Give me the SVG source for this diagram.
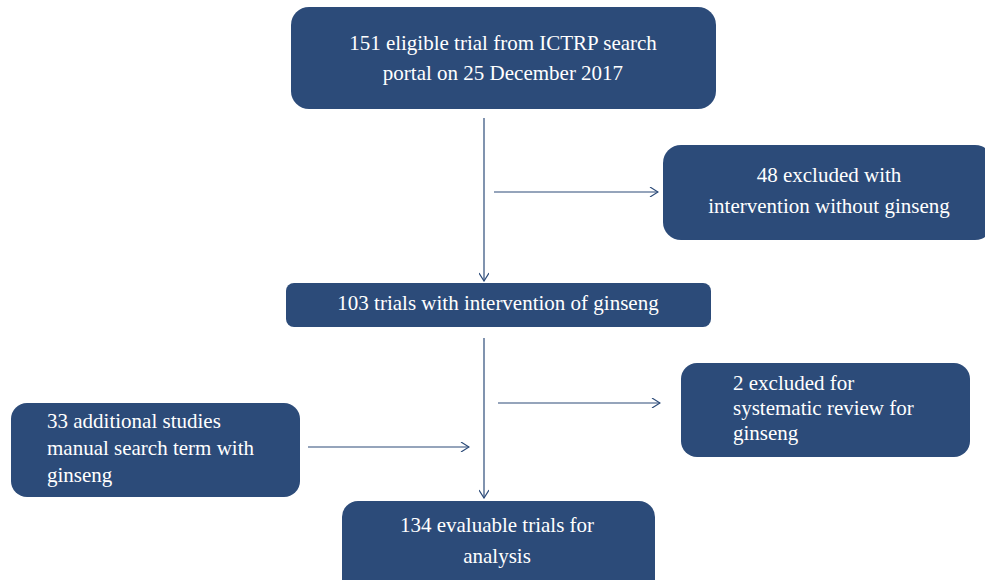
<svg xmlns="http://www.w3.org/2000/svg" width="985" height="580" viewBox="0 0 985 580">
<defs>
<style>
.box{fill:#2c4b79;}
.t{font-family:"Liberation Serif","Times New Roman",serif;font-size:21px;fill:#ffffff;}
.c{text-anchor:middle;}
.ln{stroke:#2c4b79;stroke-width:1.2;fill:none;marker-end:url(#ah);}
</style>
<marker id="ah" viewBox="0 0 10 10" refX="9" refY="5" markerWidth="10" markerHeight="10" markerUnits="userSpaceOnUse" orient="auto">
<path d="M1,0 L9,5 L1,10" fill="none" stroke="#2c4b79" stroke-width="1.2"/>
</marker>
</defs>
<rect width="985" height="580" fill="#ffffff"/>
<g id="connectors">
<line class="ln" x1="484" y1="118" x2="484" y2="281"/>
<line class="ln" x1="494" y1="192" x2="658" y2="192"/>
<line class="ln" x1="484" y1="338" x2="484" y2="498"/>
<line class="ln" x1="498" y1="403" x2="660" y2="403"/>
<line class="ln" x1="308" y1="447" x2="469" y2="447"/>
</g>
<g id="n1">
<rect class="box" x="291" y="7" width="425" height="102" rx="18"/>
<text class="t c" x="503" y="50">151 eligible trial from ICTRP search</text>
<text class="t c" x="503" y="80">portal on 25 December 2017</text>
</g>
<g id="n2">
<rect class="box" x="663" y="145" width="330" height="95" rx="18"/>
<text class="t c" x="829" y="182">48 excluded with</text>
<text class="t c" x="829" y="213">intervention without ginseng</text>
</g>
<g id="n3">
<rect class="box" x="286" y="283" width="425" height="44" rx="8"/>
<text class="t c" x="498" y="310">103 trials with intervention of ginseng</text>
</g>
<g id="n4">
<rect class="box" x="681" y="363" width="289" height="94" rx="16"/>
<text class="t" x="733" y="390">2 excluded for</text>
<text class="t" x="733" y="415">systematic review for</text>
<text class="t" x="733" y="440">ginseng</text>
</g>
<g id="n5">
<rect class="box" x="11" y="403" width="289" height="94" rx="16"/>
<text class="t" x="47" y="428">33 additional studies</text>
<text class="t" x="47" y="455">manual search term with</text>
<text class="t" x="47" y="482">ginseng</text>
</g>
<g id="n6">
<rect class="box" x="342" y="501" width="313" height="95" rx="16"/>
<text class="t c" x="497" y="532">134 evaluable trials for</text>
<text class="t c" x="497" y="563">analysis</text>
</g>
</svg>
